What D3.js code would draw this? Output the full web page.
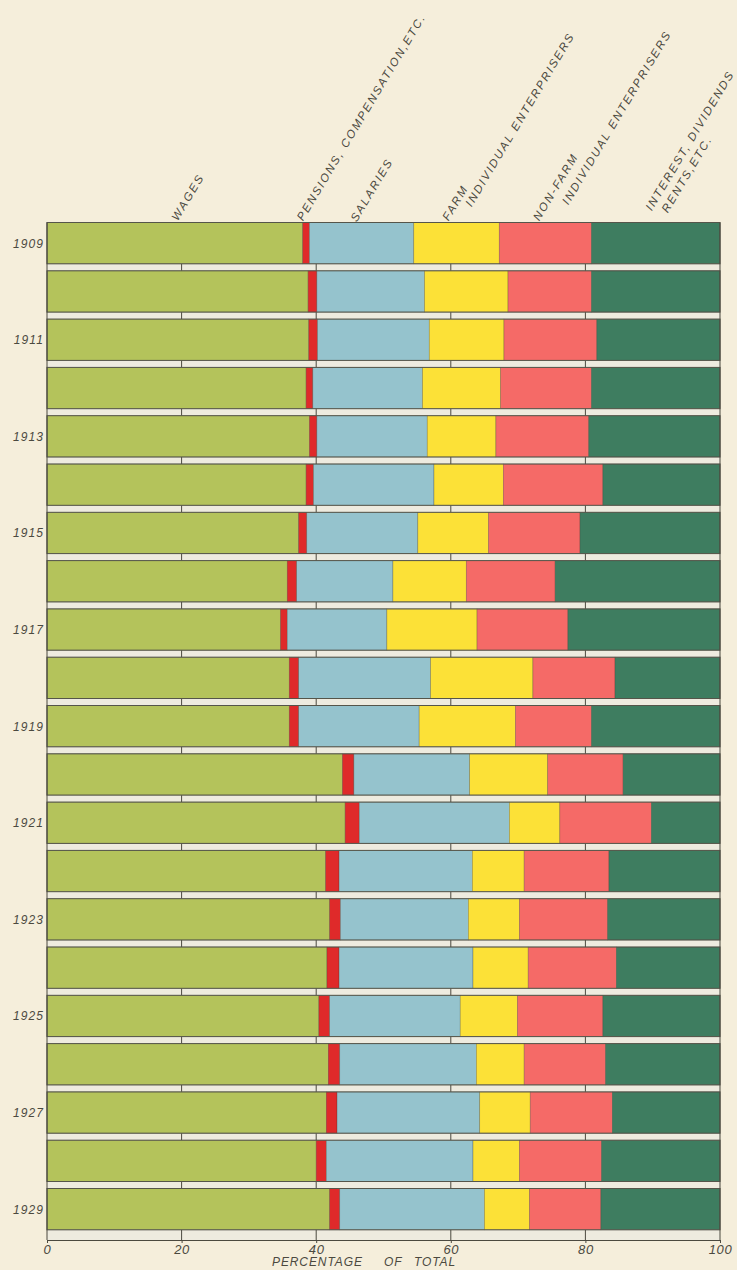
<!DOCTYPE html>
<html>
<head>
<meta charset="utf-8">
<script src="https://cdn.jsdelivr.net/npm/d3@7"></script>
<style>
  html, body { margin: 0; padding: 0; background: #f5eedb; }
  svg { display: block; }
  text { font-family: "Liberation Sans", Arial, sans-serif; font-style: italic; fill: #4b493f; }
</style>
</head>
<body>
<svg id="chart" width="737" height="1270"></svg>
<script>
// ---------------- DATA ----------------
const years = [1909,1910,1911,1912,1913,1914,1915,1916,1917,1918,1919,1920,1921,1922,1923,1924,1925,1926,1927,1928,1929];
const wages     = [38.0,38.8,38.9,38.5,39.0,38.5,37.4,35.7,34.7,36.0,36.0,43.9,44.3,41.4,42.0,41.6,40.4,41.8,41.5,40.0,42.0];
const pensions  = [1.0,1.3,1.3,1.0,1.1,1.1,1.2,1.4,1.0,1.4,1.4,1.7,2.1,2.0,1.6,1.8,1.6,1.7,1.6,1.5,1.5];
const salaries  = [15.5,16.0,16.6,16.3,16.4,17.9,16.5,14.3,14.8,19.6,17.9,17.2,22.3,19.8,19.0,19.9,19.4,20.3,21.2,21.8,21.5];
const farm      = [12.7,12.4,11.1,11.6,10.2,10.3,10.5,10.9,13.4,15.2,14.3,11.6,7.5,7.7,7.6,8.2,8.5,7.1,7.5,6.9,6.7];
const nonFarm   = [13.7,12.4,13.8,13.5,13.8,14.8,13.6,13.2,13.5,12.2,11.3,11.2,13.6,12.6,13.1,13.1,12.7,12.1,12.2,12.2,10.6];
const interest  = [19.1,19.1,18.3,19.1,19.5,17.4,20.8,24.5,22.6,15.6,19.1,14.4,10.2,16.5,16.7,15.4,17.4,17.0,16.0,17.6,17.7];

const seriesKeys = ["wages","pensions","salaries","farm","nonFarm","interest"];
const seriesLabels = [
  ["WAGES"],
  ["PENSIONS, COMPENSATION,ETC."],
  ["SALARIES"],
  ["FARM", "INDIVIDUAL ENTERPRISERS"],
  ["NON-FARM", "INDIVIDUAL ENTERPRISERS"],
  ["INTEREST, DIVIDENDS", "RENTS,ETC."]
];
const xTicks = [0,20,40,60,80,100];
const yearLabels = years.filter(y => y % 2 === 1);
const axisTitleWords = ["PERCENTAGE", "OF", "TOTAL"];

// ---------------- STYLE / LAYOUT ----------------
const colors = {
  wages: "#b4c35b", pensions: "#df2a2a", salaries: "#95c3cd",
  farm: "#fce137", nonFarm: "#f56a67", interest: "#3e7d60"
};
// label line offsets relative to middle of the 1909 segment (pixels)
const labelOffsets = [
  [[3, -1]],
  [[-3, -1]],
  [[-5, 0]],
  [[-8, -1], [15, -15]],
  [[-6, -1], [23, -17]],
  [[-4, -11], [12, -9]]
];
const titleWordX = [272, 384, 414];   // pixel starts of axis-title words

const table = years.map((y, i) => ({
  year: y, wages: wages[i], pensions: pensions[i], salaries: salaries[i],
  farm: farm[i], nonFarm: nonFarm[i], interest: interest[i]
}));

const svg = d3.select("#chart");
const x = d3.scaleLinear().domain([0, 100]).range([47, 720]);
const y = d3.scaleBand().domain(years).range([222.5, 1229.8]).paddingInner(0.145).paddingOuter(0);
const axisY = 1240;
const ink = "#4b493f";

const stacked = d3.stack().keys(seriesKeys)(table);

// strips between bars
const stripG = svg.append("g");
years.forEach((yr, i) => {
  const top = y(yr) + y.bandwidth();
  const bottom = i < years.length - 1 ? y(years[i + 1]) : axisY;
  stripG.append("rect").attr("x", x(0)).attr("y", top).attr("width", x(100) - x(0)).attr("height", bottom - top)
    .attr("fill", "#eeebdf");
  [20, 40, 60, 80].forEach(t => {
    stripG.append("line").attr("x1", x(t)).attr("x2", x(t)).attr("y1", top).attr("y2", bottom)
      .attr("stroke", ink).attr("stroke-width", 1);
  });
});

// bars
const barG = svg.append("g");
stacked.forEach(s => {
  barG.append("g").attr("fill", colors[s.key])
    .selectAll("rect").data(s).join("rect")
    .attr("x", d => x(d[0]))
    .attr("y", d => y(d.data.year))
    .attr("width", d => x(d[1]) - x(d[0]))
    .attr("height", y.bandwidth())
    .attr("stroke", "rgba(60,60,50,0.45)")
    .attr("stroke-width", 0.6);
});
// bar outlines
barG.append("g").selectAll("rect").data(years).join("rect")
  .attr("x", x(0)).attr("y", d => y(d)).attr("width", x(100) - x(0)).attr("height", y.bandwidth())
  .attr("fill", "none").attr("stroke", "#55554a").attr("stroke-width", 1);

// frame left/right through strips
svg.append("line").attr("x1", x(0)).attr("x2", x(0)).attr("y1", y(years[0])).attr("y2", axisY)
  .attr("stroke", ink).attr("stroke-width", 1);
svg.append("line").attr("x1", x(100)).attr("x2", x(100)).attr("y1", y(years[0])).attr("y2", axisY)
  .attr("stroke", ink).attr("stroke-width", 1);

// bottom axis
const axis = d3.axisBottom(x).tickValues(xTicks).tickSizeInner(3).tickSizeOuter(0).tickPadding(2)
  .tickFormat(d3.format("d"));
const axG = svg.append("g").attr("transform", `translate(0,${axisY})`).call(axis);
axG.select(".domain").attr("stroke", ink).attr("stroke-width", 1.2);
axG.selectAll(".tick line").attr("stroke", ink);
axG.selectAll(".tick text").attr("font-size", 13).attr("font-family", "Liberation Sans, Arial, sans-serif")
  .attr("font-style", "italic").attr("fill", ink).attr("letter-spacing", 0.6);

const title = svg.append("text").attr("y", 1266).attr("font-size", 12).attr("letter-spacing", 0.9);
axisTitleWords.forEach((w, i) => title.append("tspan").attr("x", titleWordX[i]).text(w));

// year labels
svg.append("g").selectAll("text").data(yearLabels).join("text")
  .attr("x", x(0) - 3).attr("y", d => y(d) + y.bandwidth() / 2 + 4.5)
  .attr("text-anchor", "end").attr("font-size", 12).attr("letter-spacing", 1.1)
  .text(d => d);

// header labels (rotated)
const first = stacked.map(s => s[0]);
const hdr = svg.append("g");
seriesLabels.forEach((lines, si) => {
  const mid = x((first[si][0] + first[si][1]) / 2);
  const top = y(years[0]);
  lines.forEach((ln, li) => {
    const [dx, dy] = labelOffsets[si][li];
    hdr.append("text")
      .attr("transform", `translate(${mid + dx},${top + dy}) rotate(-59)`)
      .attr("font-size", 11.5).attr("letter-spacing", 1.9)
      .text(ln);
  });
});
</script>
</body>
</html>
